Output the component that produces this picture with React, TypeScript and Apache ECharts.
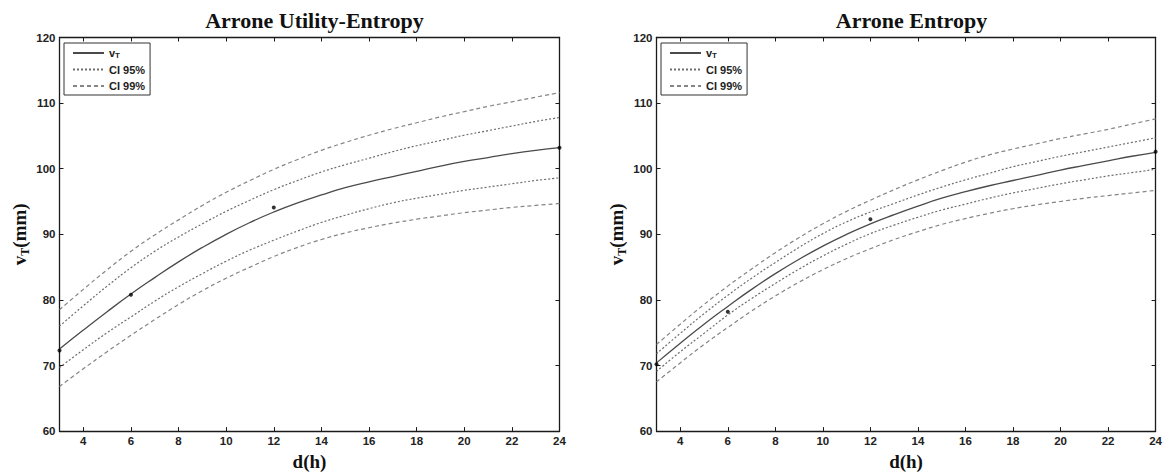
import React, { useEffect, useRef } from "react";
import * as echarts from "echarts";

const dHours = [3, 4, 5, 6, 7, 8, 9, 10, 11, 12, 13, 14, 15, 16, 17, 18, 19, 20, 21, 22, 23, 24];
const xTickValues = [4, 6, 8, 10, 12, 14, 16, 18, 20, 22, 24];

const leftMean = [72.5, 75.4, 78.2, 80.9, 83.4, 85.8, 88.0, 90.0, 91.8, 93.4, 94.8, 96.0, 97.1, 98.0, 98.8, 99.6, 100.4, 101.1, 101.7, 102.3, 102.8, 103.2];
const leftU95 = [76.0, 79.1, 82.1, 84.9, 87.4, 89.6, 91.6, 93.5, 95.2, 96.8, 98.2, 99.5, 100.6, 101.6, 102.6, 103.5, 104.3, 105.1, 105.8, 106.5, 107.2, 107.8];
const leftU99 = [78.5, 81.6, 84.6, 87.4, 89.9, 92.2, 94.4, 96.4, 98.2, 99.9, 101.4, 102.8, 104.0, 105.1, 106.1, 107.0, 107.9, 108.7, 109.5, 110.2, 110.9, 111.6];
const leftL95 = [69.7, 72.4, 75.0, 77.4, 79.8, 82.0, 84.0, 85.9, 87.6, 89.1, 90.5, 91.8, 92.9, 93.9, 94.8, 95.5, 96.1, 96.7, 97.2, 97.7, 98.2, 98.6];
const leftL99 = [66.8, 69.5, 72.1, 74.6, 77.0, 79.3, 81.4, 83.3, 85.0, 86.6, 88.0, 89.2, 90.2, 91.0, 91.7, 92.3, 92.8, 93.3, 93.7, 94.1, 94.4, 94.7];

const rightMean = [70.4, 73.4, 76.3, 79.0, 81.6, 84.0, 86.2, 88.2, 90.0, 91.6, 93.0, 94.3, 95.5, 96.5, 97.4, 98.2, 99.0, 99.8, 100.5, 101.2, 101.9, 102.5];
const rightU95 = [71.8, 74.9, 77.9, 80.7, 83.3, 85.7, 88.0, 90.1, 91.9, 93.4, 94.7, 96.0, 97.2, 98.3, 99.3, 100.3, 101.1, 101.9, 102.6, 103.3, 104.0, 104.7];
const rightU99 = [73.2, 76.3, 79.3, 82.1, 84.7, 87.2, 89.5, 91.6, 93.5, 95.2, 96.8, 98.3, 99.7, 101.0, 102.1, 103.0, 103.8, 104.6, 105.3, 106.0, 106.8, 107.6];
const rightL95 = [69.1, 72.1, 74.9, 77.7, 80.2, 82.5, 84.7, 86.7, 88.5, 90.1, 91.4, 92.6, 93.7, 94.6, 95.5, 96.3, 97.0, 97.7, 98.3, 98.9, 99.4, 99.9];
const rightL99 = [67.5, 70.4, 73.2, 75.8, 78.3, 80.6, 82.7, 84.6, 86.3, 87.8, 89.2, 90.4, 91.5, 92.4, 93.2, 93.9, 94.5, 95.0, 95.5, 95.9, 96.3, 96.7];

const obsHours = [3, 6, 12, 24];
const leftObs = [72.3, 80.8, 94.1, 103.2];
const rightObs = [70.2, 78.2, 92.3, 102.6];

const titles = ["Arrone Utility-Entropy", "Arrone Entropy"];
const legendNames = ["vT", "CI 95%", "CI 99%"];

const SERIF = "'Liberation Serif', 'Times New Roman', serif";
const SANS = "'Liberation Sans', Arial, sans-serif";

const pairs = (xs: number[], ys: number[]) => xs.map((x, i) => [x, ys[i]]);

export default function App() {
  const ref = useRef<HTMLDivElement>(null);
  useEffect(() => {
    if (!ref.current) return;
    const chart = echarts.init(ref.current, undefined, { renderer: "svg" });

    const grids = [
      { left: 59.5, top: 37.5, width: 500, height: 397 },
      { left: 656.5, top: 37.5, width: 500, height: 397 },
    ];
    const centers = [309.5, 906.5];
    const sets = [
      { mean: leftMean, u95: leftU95, l95: leftL95, u99: leftU99, l99: leftL99, obs: leftObs },
      { mean: rightMean, u95: rightU95, l95: rightL95, u99: rightU99, l99: rightL99, obs: rightObs },
    ];

    const axisLine = { show: true, lineStyle: { color: "#1a1a1a", width: 1.3 } };
    const tickStyle = { color: "#1a1a1a", width: 1 };
    const labelStyle = { fontFamily: SANS, fontWeight: "bold" as const, fontSize: 11.5, color: "#222" };

    const xAxis: any[] = [];
    const yAxis: any[] = [];
    const series: any[] = [];
    const legend: any[] = [];

    grids.forEach((g, gi) => {
      xAxis.push({
        type: "value", gridIndex: gi, min: 3, max: 24, position: "bottom",
        axisLine, splitLine: { show: false },
        axisTick: { show: true, inside: true, length: 4, lineStyle: tickStyle, customValues: xTickValues },
        axisLabel: { ...labelStyle, margin: 4, customValues: xTickValues },
        name: "d(h)", nameLocation: "middle", nameGap: 19,
        nameTextStyle: { fontFamily: SERIF, fontWeight: "bold", fontSize: 19, color: "#111" },
      });
      xAxis.push({
        type: "value", gridIndex: gi, min: 3, max: 24, position: "top",
        axisLine, splitLine: { show: false },
        axisTick: { show: true, inside: true, length: 4, lineStyle: tickStyle, customValues: xTickValues },
        axisLabel: { show: false },
      });
      yAxis.push({
        type: "value", gridIndex: gi, min: 60, max: 120, interval: 10, position: "left",
        axisLine, splitLine: { show: false },
        axisTick: { show: true, inside: true, length: 4, lineStyle: tickStyle },
        axisLabel: { ...labelStyle, margin: 4 },
        name: "{v|v}{s|T}{v|(mm)}", nameLocation: "middle", nameGap: 29, nameRotate: 90,
        nameTextStyle: {
          color: "#111",
          rich: {
            v: { fontFamily: SERIF, fontWeight: "bold", fontSize: 19, lineHeight: 22, color: "#111" },
            s: { fontFamily: SERIF, fontWeight: "bold", fontSize: 12, lineHeight: 8, verticalAlign: "bottom", color: "#111" },
          },
        },
      });
      yAxis.push({
        type: "value", gridIndex: gi, min: 60, max: 120, interval: 10, position: "right",
        axisLine, splitLine: { show: false },
        axisTick: { show: true, inside: true, length: 4, lineStyle: tickStyle },
        axisLabel: { show: false },
      });

      const s = sets[gi];
      const xi = gi * 2;
      const yi = gi * 2;
      const line = (name: string, ys: number[], color: string, type: any, width: number) => ({
        type: "line", name, xAxisIndex: xi, yAxisIndex: yi,
        data: pairs(dHours, ys), smooth: true, symbol: "none", showSymbol: false,
        lineStyle: { color, width, type }, itemStyle: { color }, z: 3,
      });
      series.push(line("vT", s.mean, "#4a4a4a", "solid", 1.3));
      series.push(line("CI 95%", s.u95, "#6e6e6e", [2, 2], 1.2));
      series.push(line("CI 95%", s.l95, "#6e6e6e", [2, 2], 1.2));
      series.push(line("CI 99%", s.u99, "#858585", [4, 3], 1.2));
      series.push(line("CI 99%", s.l99, "#858585", [4, 3], 1.2));
      series.push({
        type: "scatter", name: "obs", xAxisIndex: xi, yAxisIndex: yi,
        data: pairs(obsHours, s.obs), symbol: "circle", symbolSize: 4,
        itemStyle: { color: "#000" }, z: 5,
      });

      legend.push({
        data: legendNames, orient: "vertical",
        left: gi === 0 ? 64 : 661, top: 43,
        padding: [4, 5, 3, 8], itemGap: 4.5, itemWidth: 31, itemHeight: 12,
        borderColor: "#333", borderWidth: 1, backgroundColor: "#fff",
        selectedMode: false,
        itemStyle: { opacity: 0 },
        formatter: (n: string) => (n === "vT" ? "{v|v}{s|T}" : n),
        textStyle: {
          fontFamily: SANS, fontWeight: "bold", fontSize: 11, color: "#222", lineHeight: 12,
          rich: {
            v: { fontFamily: SANS, fontWeight: "bold", fontSize: 11, lineHeight: 12, color: "#222" },
            s: { fontFamily: SANS, fontWeight: "bold", fontSize: 8, lineHeight: 4, verticalAlign: "bottom", color: "#222" },
          },
        },
      });
    });

    chart.setOption({
      animation: false,
      backgroundColor: "#fff",
      title: titles.map((t, i) => ({
        text: t, left: centers[i], top: 4, textAlign: "center",
        textStyle: { fontFamily: SERIF, fontWeight: "bold", fontSize: 22, color: "#111" },
      })),
      legend,
      grid: grids,
      xAxis,
      yAxis,
      series,
    });
    return () => chart.dispose();
  }, []);
  return <div ref={ref} style={{ position: "absolute", left: 0, top: 0, width: 1165, height: 476 }} />;
}
